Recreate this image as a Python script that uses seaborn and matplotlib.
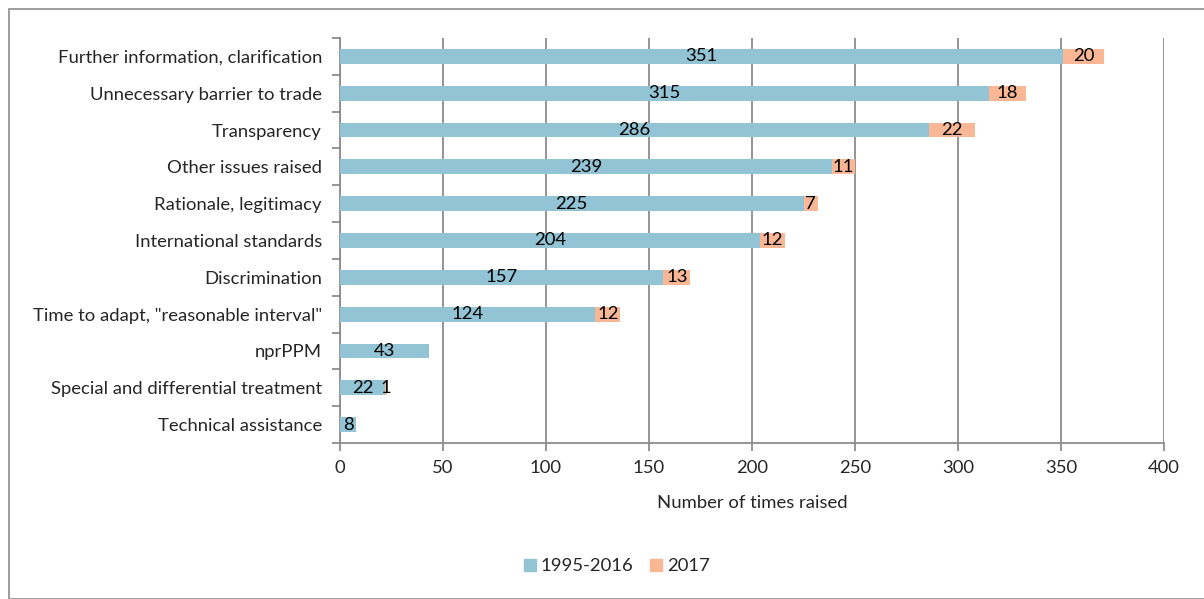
import matplotlib
matplotlib.use("Agg")
import matplotlib.pyplot as plt
import seaborn as sns
import pandas as pd
from matplotlib.patches import Rectangle
from matplotlib.lines import Line2D

categories = [
    "Further information, clarification",
    "Unnecessary barrier to trade",
    "Transparency",
    "Other issues raised",
    "Rationale, legitimacy",
    "International standards",
    "Discrimination",
    'Time to adapt, "reasonable interval"',
    "nprPPM",
    "Special and differential treatment",
    "Technical assistance",
]
before_2017 = [351, 315, 286, 239, 225, 204, 157, 124, 43, 22, 8]
in_2017 = [20, 18, 22, 11, 7, 12, 13, 12, 0, 1, 0]
series_names = ["1995-2016", "2017"]
xticks = [0, 50, 100, 150, 200, 250, 300, 350, 400]

blue = "#92C4D5"
orange = "#F9B795"
grid_c = "#8C8C8C"
fs = 13.3

df = pd.DataFrame({"cat": categories, "a": before_2017, "b": in_2017})
df["total"] = df["a"] + df["b"]

sns.set_theme(style="white")
plt.rcParams["font.family"] = ["Lato", "DejaVu Sans"]

fig = plt.figure(figsize=(12.04, 5.99), dpi=100)
ax = fig.add_axes([0.2824, 0.2604, 0.6844, 0.6762])

sns.barplot(data=df, x="total", y="cat", color=orange, saturation=1, width=0.4,
            linewidth=0, ax=ax, zorder=2)
sns.barplot(data=df, x="a", y="cat", color=blue, saturation=1, width=0.4,
            linewidth=0, ax=ax, zorder=3)

for i, (a, b) in enumerate(zip(before_2017, in_2017)):
    if a > 0:
        ax.text(a / 2, i, str(a), ha="center", va="center", fontsize=fs, color="black", zorder=5)
    if b > 0:
        ax.text(a + b / 2, i, str(b), ha="center", va="center", fontsize=fs, color="black", zorder=5)

ax.set_xlim(0, 400)
ax.set_ylim(len(categories) - 0.5, -0.5)
ax.set_xticks(xticks)
ax.set_xticklabels([str(t) for t in xticks], fontsize=fs)
ax.set_yticks(range(len(categories)))
ax.set_yticklabels(categories, fontsize=fs)
ax.set_xlabel("Number of times raised", fontsize=fs, labelpad=14)
ax.set_ylabel("")

ax.xaxis.grid(True, color=grid_c, linewidth=1.3, zorder=0)
ax.set_axisbelow(True)
for s in ["top", "right"]:
    ax.spines[s].set_visible(False)
for s in ["left", "bottom"]:
    ax.spines[s].set_color(grid_c)
    ax.spines[s].set_linewidth(1.3)

ax.tick_params(axis="y", length=0, pad=13)
ax.tick_params(axis="x", length=6, color=grid_c, width=1.3, bottom=True, pad=6)
# category boundary ticks on the y axis
ax.set_yticks([i + 0.5 for i in range(-1, len(categories))], minor=True)
ax.tick_params(axis="y", which="minor", length=6, color=grid_c, width=1.3, left=True)

handles = [
    Line2D([0], [0], marker="s", linestyle="", markersize=9, markerfacecolor=blue, markeredgecolor=blue),
    Line2D([0], [0], marker="s", linestyle="", markersize=9, markerfacecolor=orange, markeredgecolor=orange),
]
fig.legend(handles, series_names, loc="center", bbox_to_anchor=(0.51, 0.055), ncol=2,
           frameon=False, fontsize=fs, handletextpad=0.0, columnspacing=0.6, handlelength=1.2)

fig.patches.append(Rectangle((9 / 1204, 0), 1.2, 1 - 9 / 599, transform=fig.transFigure,
                             fill=False, edgecolor="#8C8C8C", linewidth=1.2))

fig.savefig("out.png", dpi=100)
